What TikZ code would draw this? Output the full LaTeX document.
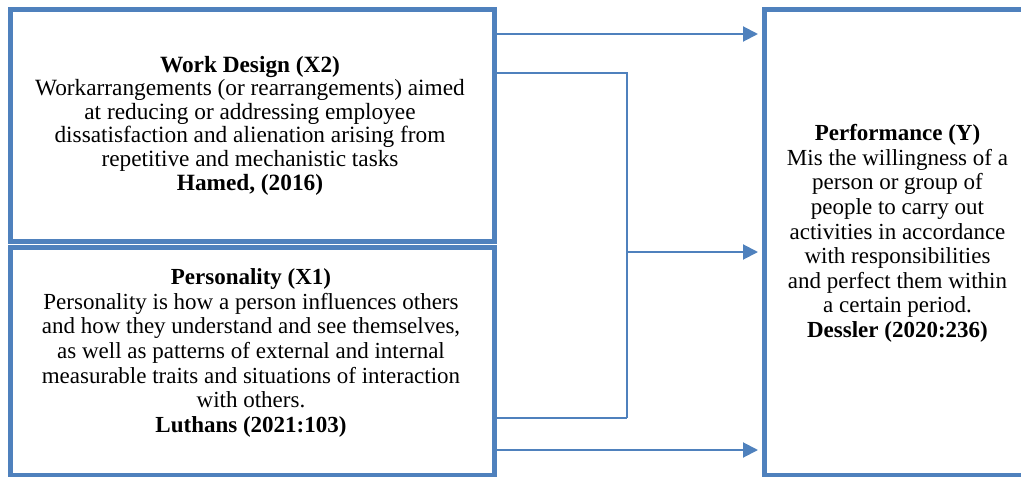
\documentclass[tikz,border=0pt]{standalone}
\usepackage{fontspec}
\setmainfont{Liberation Serif}
\usetikzlibrary{arrows.meta,calc}
\definecolor{boxblue}{HTML}{4F81BD}
\tikzset{
  bigbox/.style={draw=boxblue, line width=5pt, rectangle, inner sep=0pt},
  boxtext/.style={align=center, inner sep=0pt, font=\fontsize{23}{24.6}\selectfont},
  link/.style={draw=boxblue, line width=2pt},
  arrowlink/.style={link, -{Triangle[length=15pt,width=15pt]}, shorten >=4pt}
}
\begin{document}
\begin{tikzpicture}[x=1pt,y=-1pt]
\useasboundingbox (0,0) rectangle (1021,477);
\clip (0,0) rectangle (1021,477);
% boxes
\node[bigbox, minimum width=483.5pt, minimum height=232pt] (x2) at (252.25,125.5) {};
\node[bigbox, minimum width=483.5pt, minimum height=228pt] (x1) at (252.25,361) {};
\node[bigbox, minimum width=275.5pt, minimum height=465.5pt] (y) at (902.25,242.25) {};
% texts
\node[boxtext, font=\fontsize{23.3}{23.6}\selectfont] (tx2) at (250,125.5) {\textbf{Work Design (X2)}\\
Workarrangements (or rearrangements) aimed\\
at reducing or addressing employee\\
dissatisfaction and alienation arising from\\
repetitive and mechanistic tasks\\
\textbf{Hamed, (2016)}};
\node[boxtext] (tx1) at (251,353) {\textbf{Personality (X1)}\\
Personality is how a person influences others\\
and how they understand and see themselves,\\
as well as patterns of external and internal\\
measurable traits and situations of interaction\\
with others.\\
\textbf{Luthans (2021:103)}};
\node[boxtext] (ty) at (897.5,233.5) {\textbf{Performance (Y)}\\
Mis the willingness of a\\
person or group of\\
people to carry out\\
activities in accordance\\
with responsibilities\\
and perfect them within\\
a certain period.\\
\textbf{Dessler (2020:236)}};
% junction coordinates
\coordinate (jt) at (627,73);
\coordinate (jm) at (627,252);
\coordinate (jb) at (627,418);
% connectors
\draw[arrowlink] ([yshift=-27pt]x2.north east) -- ([yshift=-27pt]x2.north east -| y.west);
\draw[link] (x2.east |- jt) -- (jt) -- (jb);
\draw[link] (x1.east |- jb) -- (jb);
\draw[arrowlink] (jm) -- (jm -| y.west);
\draw[arrowlink] (x1.east |- 0,450) -- (y.west |- 0,450);
\end{tikzpicture}
\end{document}
